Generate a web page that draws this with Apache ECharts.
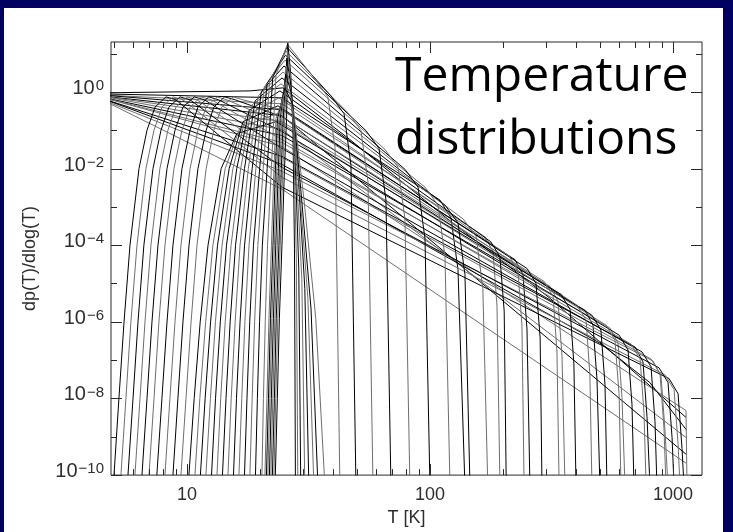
<!DOCTYPE html>
<html>
<head>
<meta charset="utf-8">
<script src="https://cdn.jsdelivr.net/npm/echarts@6/dist/echarts.min.js"></script>
<style>
  html, body { margin: 0; padding: 0; width: 733px; height: 532px; overflow: hidden; background: #000060; }
  #chart { position: absolute; left: 4px; top: 8px; width: 719px; height: 524px; background: #ffffff; }
</style>
</head>
<body>
<div id="chart"></div>
<script>
// Axis ranges
const T_MIN = 4.87, T_MAX = 1316;
const P_MIN = 1e-10, P_MAX = 20;

// Tick positions
const tempMajorTicks = [10, 100, 1000];
const tempMinorTicks = [5, 6, 7, 8, 9, 20, 30, 40, 50, 60, 70, 80, 90, 200, 300, 400, 500, 600, 700, 800, 900];
const probMajorTicks = [1e-10, 1e-8, 1e-6, 1e-4, 1e-2, 1];
const probMinorTicks = [1e-9, 1e-7, 1e-5, 1e-3, 1e-1, 10];

// Smallest grains: flat at the cold end, long power-law tails
const coldGrainCurves = [
  [[4.39, 0.94], [18.2, 1.06], [24.8, 1.27], [46.8, 0.057], [121, 4.3e-4], [312, 4.1e-6], [1131, 3.2e-9]],
  [[4.39, 0.742], [24.6, 0.0376], [1131, 4.83e-9], [1142, 5e-11]],
  [[4.39, 0.788], [24.6, 0.239], [1131, 3.5e-10]],
  [[4.39, 0.788], [24.6, 0.104], [1131, 9.6e-10]],
  [[4.39, 0.70], [24.6, 0.0128], [500, 2.79e-7], [804, 2.57e-8], [1131, 1.56e-9]],
  [[4.39, 0.659], [24.6, 2.9e-3], [1131, 2.05e-10]],
  [[4.39, 0.888], [24.6, 0.699], [109.9, 1.50e-3], [122.0, 5.13e-4], [130.4, 2.31e-5], [139.3, 5e-11]],
  [[4.39, 0.836], [24.6, 0.489], [168.4, 1.65e-4], [181.7, 6.75e-5], [188.7, 2.54e-6], [194.1, 5e-11]],
  [[4.39, 0.836], [24.6, 0.342], [223.7, 4.19e-5], [241.4, 1.71e-5], [250.7, 6.43e-7], [257.8, 5e-11]],
  [[4.39, 0.788], [24.6, 0.167], [311.7, 8.36e-6], [336.3, 3.42e-6], [349.3, 1.29e-7], [359.4, 5e-11]],
  [[4.39, 0.742], [24.6, 0.0725], [434.2, 2.0e-6], [468.6, 8.2e-7], [486.7, 3.07e-8], [500.5, 5e-11]],
  [[4.39, 0.742], [24.6, 0.0477], [550.6, 6.83e-7], [593.8, 2.79e-7], [616.8, 1.05e-8], [634.5, 5e-11]],
  [[4.39, 0.699], [24.6, 0.0207], [697.9, 2.2e-7], [752.4, 8.98e-8], [781.5, 3.38e-9], [804.1, 5e-11]],
  [[4.39, 0.659], [24.6, 8.46e-3], [827.3, 9.5e-8], [892.5, 3.9e-8], [927, 1.47e-9], [953.7, 5e-11]]
];

// Small grains: cold rise, broad maximum near 10 K, falling tail, hot cut-off
const coolGrainCurves = [
  [[5.01, 1e-10], [5.25, 1e-8], [5.51, 1e-6], [5.83, 1e-4], [6.35, 1e-2], [6.85, 0.1], [7.39, 0.4], [8.20, 0.74], [9.01, 0.62], [24.6, 3.26e-3], [963, 3.3e-8], [1049, 1.33e-8], [1089, 5.0e-10], [1110, 5e-11]],
  [[5.35, 1e-10], [5.61, 1e-8], [5.88, 1e-6], [6.23, 1e-4], [6.78, 1e-2], [7.32, 0.1], [7.89, 0.4], [8.76, 0.74], [9.63, 0.62], [24.6, 5.92e-3], [927, 4.1e-8], [1010, 1.7e-8], [1049, 6.4e-10], [1069, 5e-11]],
  [[5.72, 1e-10], [6.00, 1e-8], [6.29, 1e-6], [6.65, 1e-4], [7.25, 1e-2], [7.82, 0.1], [8.43, 0.4], [9.36, 0.74], [10.3, 0.62], [24.6, 0.0107], [876, 6.3e-8], [954, 2.6e-8], [991, 9.6e-10], [1010, 5e-11]],
  [[6.11, 1e-10], [6.41, 1e-8], [6.72, 1e-6], [7.11, 1e-4], [7.74, 1e-2], [8.35, 0.1], [9.01, 0.4], [10.0, 0.74], [11.0, 0.62], [24.6, 0.0195], [812, 1.07e-7], [884, 4.4e-8], [918, 1.65e-9], [936, 5e-11]],
  [[6.53, 1e-10], [6.85, 1e-8], [7.18, 1e-6], [7.60, 1e-4], [8.28, 1e-2], [8.93, 0.1], [9.63, 0.4], [10.7, 0.74], [11.8, 0.62], [24.6, 0.0334], [746, 1.63e-7], [812, 6.7e-8], [843, 2.5e-9], [859, 5e-11]],
  [[6.98, 1e-10], [7.32, 1e-8], [7.67, 1e-6], [8.12, 1e-4], [8.84, 1e-2], [9.54, 0.1], [10.3, 0.4], [11.4, 0.74], [12.6, 0.62], [24.6, 0.0571], [672, 2.6e-7], [732, 1.07e-7], [760, 4.0e-9], [775, 5e-11]],
  [[7.52, 1e-10], [7.89, 1e-8], [8.28, 1e-6], [8.76, 1e-4], [9.54, 1e-2], [10.3, 0.1], [11.1, 0.4], [12.3, 0.74], [13.5, 0.62], [24.6, 0.0920], [600, 4.5e-7], [653, 1.84e-7], [678, 6.9e-9], [691, 5e-11]],
  [[8.12, 1e-10], [8.51, 1e-8], [8.93, 1e-6], [9.45, 1e-4], [10.3, 1e-2], [11.1, 0.1], [12.0, 0.4], [13.3, 0.74], [14.6, 0.62], [24.6, 0.148], [530, 8.2e-7], [577, 3.3e-7], [600, 1.25e-8], [611, 5e-11]],
  [[8.76, 1e-10], [9.18, 1e-8], [9.63, 1e-6], [10.2, 1e-4], [11.1, 1e-2], [12.0, 0.1], [12.9, 0.4], [14.3, 0.74], [15.8, 0.62], [24.6, 0.225], [464, 1.48e-6], [505, 6.1e-7], [525, 2.3e-8], [535, 5e-11]],
  [[9.45, 1e-10], [9.91, 1e-8], [10.4, 1e-6], [11.0, 1e-4], [12.0, 1e-2], [12.9, 0.1], [13.9, 0.4], [15.5, 0.74], [17.0, 0.62], [24.6, 0.342], [403, 2.7e-6], [439, 1.1e-6], [455, 4.1e-8], [464, 5e-11]]
];

// Medium grains: long cold tail rising to a maximum near 23-26 K, then the hot tail
const warmGrainCurves = [
  [[10.19, 1e-10], [10.71, 1e-8], [11.34, 1e-6], [12.21, 1e-4], [13.83, 1e-2], [16.05, 0.0816], [23.24, 0.167], [346, 5.2e-6], [377, 2.1e-6], [391, 8.0e-8], [399, 5e-11]],
  [[10.79, 1e-10], [11.30, 1e-8], [11.94, 1e-6], [12.79, 1e-4], [14.37, 1e-2], [16.54, 0.117], [23.46, 0.269], [295, 1.13e-5], [321, 4.6e-6], [333, 1.73e-7], [340, 5e-11]],
  [[11.36, 1e-10], [11.88, 1e-8], [12.51, 1e-6], [13.36, 1e-4], [14.92, 1e-2], [17.02, 0.167], [23.69, 0.434], [251, 2.45e-5], [273, 1.0e-5], [284, 3.8e-7], [289, 5e-11]],
  [[11.97, 1e-10], [12.49, 1e-8], [13.10, 1e-6], [13.95, 1e-4], [15.46, 1e-2], [17.52, 0.239], [23.91, 0.700], [211, 5.3e-5], [230, 2.2e-5], [239, 8.2e-7], [244, 5e-11]],
  [[12.62, 1e-10], [13.11, 1e-8], [13.72, 1e-6], [14.55, 1e-4], [16.03, 1e-2], [18.03, 0.332], [24.14, 1.06], [178, 1.22e-4], [194, 5.0e-5], [202, 1.9e-6], [206, 5e-11]],
  [[13.29, 1e-10], [13.77, 1e-8], [14.37, 1e-6], [15.19, 1e-4], [16.64, 1e-2], [18.55, 0.461], [24.37, 1.61], [137, 4.8e-4], [155, 1.65e-4], [165, 7.4e-6], [173, 5e-11]],
  [[14.00, 1e-10], [14.48, 1e-8], [15.06, 1e-6], [15.85, 1e-4], [17.25, 1e-2], [19.08, 0.585], [24.60, 2.30], [115.3, 1.11e-3], [130.4, 3.81e-4], [139.3, 1.71e-5], [146.1, 5e-11]],
  [[14.75, 1e-10], [15.21, 1e-8], [15.79, 1e-6], [16.54, 1e-4], [17.89, 1e-2], [19.65, 0.788], [24.84, 3.30], [95.4, 3.26e-3], [107.9, 1.11e-3], [115.3, 5.0e-5], [120.9, 5e-11]],
  [[15.54, 1e-10], [15.99, 1e-8], [16.54, 1e-6], [17.26, 1e-4], [18.55, 1e-2], [20.22, 1.0], [25.07, 4.72], [78.9, 9.53e-3], [89.3, 3.26e-3], [95.4, 1.46e-4], [100, 5e-11]],
  [[16.37, 1e-10], [16.81, 1e-8], [17.32, 1e-6], [18.01, 1e-4], [19.22, 1e-2], [20.80, 1.35], [25.31, 6.75], [65.3, 0.0314], [73.9, 0.0107], [78.9, 4.83e-4], [82.7, 5e-11]],
  [[17.25, 1e-10], [17.66, 1e-8], [18.13, 1e-6], [18.78, 1e-4], [19.92, 1e-2], [21.36, 1.66], [25.43, 9.09], [54.5, 0.0976], [61.7, 0.0334], [65.9, 1.5e-3], [69.1, 5e-11]],
  [[18.16, 1e-10], [18.55, 1e-8], [18.99, 1e-6], [19.58, 1e-4], [20.60, 1e-2], [21.91, 1.99], [25.55, 11.5], [46.0, 0.286], [52.0, 0.0976], [55.6, 4.39e-3], [58.3, 5e-11]],
  [[19.14, 1e-10], [19.49, 1e-8], [19.90, 1e-6], [20.43, 1e-4], [21.38, 1e-2], [22.54, 2.37], [25.79, 14.6], [39.1, 0.788], [44.3, 0.269], [47.3, 0.0121], [49.6, 5e-11]],
  [[20.35, 1e-10], [20.64, 1e-8], [21.00, 1e-6], [21.46, 1e-4], [22.25, 1e-2], [23.24, 2.72], [25.91, 17.5], [33.6, 2.17], [38.0, 0.742], [40.7, 0.0334], [42.6, 5e-11]]
];

// Large grains: narrow peaks at the equilibrium temperature
const spikeGrainCurves = [
  [[23.1, 1e-10], [23.55, 1e-8], [24.0, 1.2e-6], [24.6, 1e-4], [25.2, 1e-2], [25.7, 0.2], [26.0, 19], [26.75, 2.8], [27.3, 0.1], [27.7, 8e-5], [27.95, 5e-11]],
  [[22.8, 1e-10], [23.2, 1e-8], [23.65, 1.2e-6], [24.2, 1e-4], [24.8, 1e-2], [25.25, 0.2], [25.9, 12], [26.75, 2.0], [27.5, 0.057], [28.2, 4.4e-5], [28.6, 5e-11]],
  [[22.47, 1e-10], [22.9, 1e-8], [23.3, 1.2e-6], [23.9, 1e-4], [24.45, 1e-2], [24.9, 0.2], [25.76, 7.6], [26.75, 1.5], [27.8, 0.031], [28.85, 2.4e-5], [29.4, 5e-11]],
  [[22.15, 1e-10], [22.57, 1e-8], [23.0, 1.2e-6], [23.55, 1e-4], [24.1, 1e-2], [24.56, 0.2], [25.6, 4.7], [26.75, 1.1], [28.05, 0.017], [29.7, 1.3e-5], [30.55, 5e-11]],
  [[21.84, 1e-10], [22.25, 1e-8], [22.68, 1.2e-6], [23.2, 1e-4], [23.78, 1e-2], [24.2, 0.2], [25.5, 2.9], [27.0, 0.84], [28.6, 9.5e-3], [30.55, 7.4e-6], [31.75, 5e-11]],
  [[21.53, 1e-10], [21.94, 1e-8], [22.36, 1.2e-6], [22.9, 1e-4], [23.45, 1e-2], [23.9, 0.2], [25.4, 1.8], [27.0, 0.62], [28.85, 5.2e-3], [31.45, 4.1e-6], [33.3, 5e-11]],
  [[21.24, 1e-10], [21.65, 1e-8], [22.06, 1.2e-6], [22.59, 1e-4], [23.13, 1e-2], [23.57, 0.2], [25.3, 1.27], [27.26, 0.46], [29.4, 2.9e-3], [32.4, 2.2e-6], [34.6, 5e-11]],
  [[20.94, 1e-10], [21.34, 1e-8], [21.75, 1.2e-6], [22.27, 1e-4], [22.81, 1e-2], [23.24, 0.2], [25.2, 0.89], [27.5, 0.30], [30.3, 1.6e-3], [33.9, 1.2e-6], [36.98, 5e-11]]
];

const AXIS_COLOR = '#2a2a2a';
const TEXT_COLOR = '#2e2e2e';
const LABEL_FONT = '"Liberation Sans", Arial, sans-serif';

const allCurves = [].concat(coldGrainCurves, coolGrainCurves, warmGrainCurves, spikeGrainCurves);
const curveSeries = allCurves.map(function (pts, i) {
  return {
    type: 'line',
    data: pts,
    showSymbol: false,
    symbol: 'none',
    silent: true,
    animation: false,
    clip: true,
    z: 2,
    lineStyle: { width: 1, color: i % 2 ? '#6e6e6e' : '#000000' }
  };
});

// Tick marks on all four sides of the frame
function tempTickSeries(values, len) {
  return {
    type: 'custom', silent: true, animation: false, clip: false, z: 10,
    data: values.map(function (v) { return [v, P_MIN]; }),
    renderItem: function (params, api) {
      const cs = params.coordSys;
      const x = Math.round(api.coord([api.value(0), api.value(1)])[0]) + 0.5;
      const st = { stroke: AXIS_COLOR, lineWidth: 1 };
      return { type: 'group', children: [
        { type: 'line', shape: { x1: x, y1: cs.y + cs.height, x2: x, y2: cs.y + cs.height - len }, style: st },
        { type: 'line', shape: { x1: x, y1: cs.y, x2: x, y2: cs.y + len }, style: st }
      ] };
    }
  };
}
function probTickSeries(values, len) {
  return {
    type: 'custom', silent: true, animation: false, clip: false, z: 10,
    data: values.map(function (v) { return [T_MIN, v]; }),
    renderItem: function (params, api) {
      const cs = params.coordSys;
      const y = Math.round(api.coord([api.value(0), api.value(1)])[1]) + 0.5;
      const st = { stroke: AXIS_COLOR, lineWidth: 1 };
      return { type: 'group', children: [
        { type: 'line', shape: { x1: cs.x, y1: y, x2: cs.x + len, y2: y }, style: st },
        { type: 'line', shape: { x1: cs.x + cs.width, y1: y, x2: cs.x + cs.width - len, y2: y }, style: st }
      ] };
    }
  };
}

const chart = echarts.init(document.getElementById('chart'), null, { renderer: 'canvas' });
chart.setOption({
  animation: false,
  backgroundColor: '#ffffff',
  grid: { left: 107, top: 34, width: 591, height: 436, show: true, borderColor: AXIS_COLOR, borderWidth: 1, backgroundColor: 'transparent' },
  xAxis: {
    type: 'log', logBase: 10, min: T_MIN, max: T_MAX,
    axisLine: { show: false }, axisTick: { show: false }, splitLine: { show: false },
    axisLabel: {
      showMinLabel: false, showMaxLabel: false, margin: 11,
      fontSize: 18, color: TEXT_COLOR, fontFamily: LABEL_FONT,
      formatter: function (v) {
        const e = Math.log10(v), r = Math.round(e);
        return Math.abs(e - r) < 1e-6 ? String(Math.round(v)) : '';
      }
    },
    name: 'T [K]', nameLocation: 'middle', nameGap: 31,
    nameTextStyle: { fontSize: 18, color: TEXT_COLOR, fontFamily: LABEL_FONT }
  },
  yAxis: {
    type: 'log', logBase: 10, min: P_MIN, max: P_MAX, interval: 2,
    axisLine: { show: false }, axisTick: { show: false }, splitLine: { show: false },
    axisLabel: {
      showMinLabel: true, showMaxLabel: false, margin: 7,
      padding: [0, 0, 7, 0],
      color: TEXT_COLOR, fontFamily: LABEL_FONT,
      formatter: function (v) {
        const e = Math.log10(v), r = Math.round(e);
        if (Math.abs(e - r) > 1e-6 || r % 2 !== 0 || r > 0) return '';
        return '{b|10}{s|' + (r < 0 ? '\u2212' + (-r) : '0') + '}';
      },
      rich: {
        b: { fontSize: 20, lineHeight: 20, verticalAlign: 'bottom', color: TEXT_COLOR, fontFamily: LABEL_FONT },
        s: { fontSize: 15, lineHeight: 16, padding: [0, 0, 10, 1], verticalAlign: 'top', color: TEXT_COLOR, fontFamily: LABEL_FONT }
      }
    },
    name: 'dp(T)/dlog(T)', nameLocation: 'middle', nameGap: 72,
    nameTextStyle: { fontSize: 18, color: TEXT_COLOR, fontFamily: LABEL_FONT }
  },
  graphic: [
    { type: 'text', left: 391, top: 45, z: 20, style: { text: 'Temperature', font: '48px "Open Sans"', fill: '#000' } },
    { type: 'text', left: 391, top: 108, z: 20, style: { text: 'distributions', font: '48px "Open Sans"', fill: '#000' } }
  ],
  series: curveSeries.concat([
    tempTickSeries(tempMajorTicks, 11),
    tempTickSeries(tempMinorTicks, 6),
    probTickSeries(probMajorTicks, 11),
    probTickSeries(probMinorTicks, 6)
  ])
});
</script>
</body>
</html>
